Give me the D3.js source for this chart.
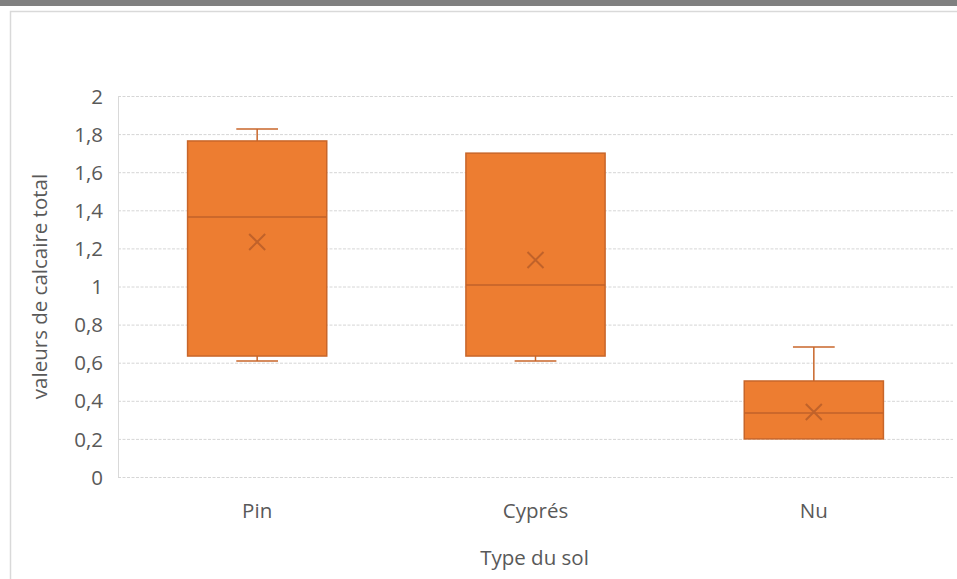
<!DOCTYPE html>
<html>
<head>
<meta charset="utf-8">
<script src="https://cdn.jsdelivr.net/npm/d3@7/dist/d3.min.js"></script>
<style>
  html, body { margin: 0; padding: 0; background: #fff; }
  svg { display: block; }
  text { font-family: "Open Sans", "Noto Sans", sans-serif; fill: #595959; }
</style>
</head>
<body>
<svg id="chart" width="957" height="579"></svg>
<script>
// Calcaire total par type de sol : quartiles, moustaches et moyenne
const categories = ["Pin", "Cyprés", "Nu"];
const whiskerLow = [0.609, 0.609, 0.20];
const q1Values = [0.635, 0.635, 0.20];
const medianValues = [1.365, 1.008, 0.336];
const q3Values = [1.764, 1.70, 0.504];
const whiskerHigh = [1.827, 1.70, 0.682];
const meanValues = [1.234, 1.139, 0.341];
const yTicks = [0, 0.2, 0.4, 0.6, 0.8, 1, 1.2, 1.4, 1.6, 1.8, 2];

const yTitle = "valeurs de calcaire total";
const xTitle = "Type du sol";

const boxes = categories.map((c, i) => ({
  cat: c,
  lo: whiskerLow[i], q1: q1Values[i], med: medianValues[i],
  q3: q3Values[i], hi: whiskerHigh[i], mean: meanValues[i]
}));

const svg = d3.select("#chart");
const W = 957, H = 579;
const plot = { left: 118, right: 953, top: 96, bottom: 477 };
const fs = 20.5;

// bandeau gris supérieur et cadre de la zone de graphique
svg.append("rect").attr("x", 0).attr("y", 0).attr("width", W).attr("height", 6).attr("fill", "#808080");
svg.append("rect").attr("x", 10.5).attr("y", 11.5).attr("width", W + 20).attr("height", H + 20)
  .attr("fill", "none").attr("stroke", "#d9d9d9").attr("stroke-width", 1.5);

const x = d3.scaleBand().domain(categories).range([plot.left, plot.right]).paddingInner(0).paddingOuter(0);
const y = d3.scaleLinear().domain([0, 2]).range([plot.bottom, plot.top]);

const fr = d3.formatLocale({ decimal: ",", thousands: " ", grouping: [3], currency: ["", " €"] });
const fmt = fr.format(".1~f");

// quadrillage horizontal
const grid = svg.append("g").attr("transform", `translate(${plot.left},0)`)
  .call(d3.axisLeft(y).tickValues(yTicks).tickSize(-(plot.right - plot.left)).tickFormat(""));
grid.select(".domain").remove();
grid.selectAll("line").attr("stroke", "#d6d6d6").attr("stroke-width", 1).attr("stroke-dasharray", "3,1.5");

// bord gauche de la zone de tracé
svg.append("line").attr("x1", plot.left + 0.5).attr("x2", plot.left + 0.5)
  .attr("y1", y(2)).attr("y2", y(0)).attr("stroke", "#d9d9d9");

// étiquettes de l'axe vertical
const yAxis = svg.append("g").attr("transform", `translate(${plot.left - 15},0)`)
  .call(d3.axisLeft(y).tickValues(yTicks).tickSize(0).tickFormat(fmt));
yAxis.select(".domain").remove();
yAxis.selectAll("text").attr("font-size", fs).attr("fill", "#595959")
  .style("font-family", "'Open Sans', sans-serif").attr("dy", "0.35em").attr("x", 0);

// étiquettes de l'axe horizontal
const xAxis = svg.append("g").attr("transform", `translate(0,${plot.bottom})`)
  .call(d3.axisBottom(x).tickSize(0));
xAxis.select(".domain").remove();
xAxis.selectAll("text").attr("font-size", fs).attr("fill", "#595959")
  .style("font-family", "'Open Sans', sans-serif").attr("dy", 0).attr("y", 41);

// titres des axes
svg.append("text").attr("x", (plot.left + plot.right) / 2 - 1).attr("y", 565)
  .attr("text-anchor", "middle").attr("font-size", fs).text(xTitle);
svg.append("text").attr("transform", `translate(47,${(plot.top + plot.bottom) / 2}) rotate(-90)`)
  .attr("text-anchor", "middle").attr("font-size", fs).text(yTitle);

// boîtes à moustaches
const fill = "#ED7D31", edge = "#C8662A", dark = "#C0622A";
const bw = x.bandwidth() * 0.5, cap = x.bandwidth() * 0.15;
const g = svg.append("g");
boxes.forEach(b => {
  const cx = x(b.cat) + x.bandwidth() / 2;
  const gb = g.append("g");
  // moustaches
  if (b.hi > b.q3) {
    gb.append("line").attr("x1", cx).attr("x2", cx).attr("y1", y(b.q3)).attr("y2", y(b.hi))
      .attr("stroke", edge).attr("stroke-width", 1.5);
    gb.append("line").attr("x1", cx - cap / 2).attr("x2", cx + cap / 2).attr("y1", y(b.hi)).attr("y2", y(b.hi))
      .attr("stroke", edge).attr("stroke-width", 1.5);
  }
  if (b.lo < b.q1) {
    gb.append("line").attr("x1", cx).attr("x2", cx).attr("y1", y(b.q1)).attr("y2", y(b.lo))
      .attr("stroke", edge).attr("stroke-width", 1.5);
    gb.append("line").attr("x1", cx - cap / 2).attr("x2", cx + cap / 2).attr("y1", y(b.lo)).attr("y2", y(b.lo))
      .attr("stroke", edge).attr("stroke-width", 1.5);
  }
  // boîte Q1–Q3
  gb.append("rect").attr("x", cx - bw / 2).attr("y", y(b.q3)).attr("width", bw).attr("height", y(b.q1) - y(b.q3))
    .attr("fill", fill).attr("stroke", edge).attr("stroke-width", 1.5);
  // médiane
  gb.append("line").attr("x1", cx - bw / 2).attr("x2", cx + bw / 2).attr("y1", y(b.med)).attr("y2", y(b.med))
    .attr("stroke", dark).attr("stroke-width", 1.5);
  // moyenne (croix)
  const m = 8, my = y(b.mean);
  gb.append("path").attr("d", `M${cx - m},${my - m}L${cx + m},${my + m}M${cx - m},${my + m}L${cx + m},${my - m}`)
    .attr("stroke", dark).attr("stroke-width", 2).attr("fill", "none");
});
</script>
</body>
</html>
